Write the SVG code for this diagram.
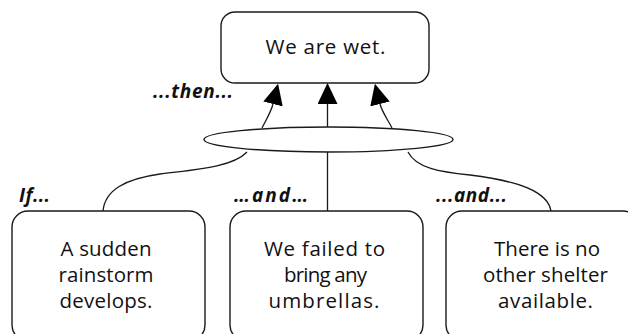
<svg xmlns="http://www.w3.org/2000/svg" width="628" height="334" viewBox="0 0 628 334">
  <style>
    .box { fill: #ffffff; stroke: #1a1a1a; stroke-width: 1.4; }
    .wire { fill: none; stroke: #1a1a1a; stroke-width: 1.3; }
    .txt { font-family: "Open Sans", "Noto Sans", "Liberation Sans", sans-serif; font-size: 20.5px; fill: #111111; text-anchor: middle; }
    .lbl { font-family: "Open Sans", "Noto Sans", "Liberation Sans", sans-serif; font-size: 19px; font-weight: bold; font-style: italic; fill: #111111; }
  </style>
  <defs>
    <marker id="head" viewBox="0 0 21 20" refX="0" refY="10" markerWidth="21" markerHeight="20" markerUnits="userSpaceOnUse" orient="auto">
      <path d="M0,0 L21,10 L0,20 Z" fill="#000000"/>
    </marker>
  </defs>

  <rect width="628" height="334" fill="#ffffff"/>

  <g id="connectors">
    <!-- causes joined at the ellipse -->
    <path class="wire" d="M247,152 C232,168 190,170 160,174 C125,179 105,190 103,211"/>
    <path class="wire" d="M327.5,152 L327.5,211"/>
    <path class="wire" d="M408,152 C416,168 440,172 470,175 C520,181 548,192 551,211"/>
    <!-- arrows up to the effect -->
    <path class="wire" d="M262,128 C266,120 271,112 273,104" marker-end="url(#head)"/>
    <path class="wire" d="M327.5,127 L327.5,104" marker-end="url(#head)"/>
    <path class="wire" d="M392,128 C388,120 382,112 380,104" marker-end="url(#head)"/>
  </g>

  <g id="and-junction">
    <ellipse class="box" cx="328.5" cy="139.5" rx="124.5" ry="12.5"/>
  </g>

  <g id="effect">
    <rect class="box" x="221" y="12" width="208" height="71" rx="14"/>
    <text class="txt" x="325.5" y="54" font-size="21.5" textLength="120" lengthAdjust="spacing">We are wet.</text>
  </g>

  <g id="cause-rain">
    <rect class="box" x="12" y="211" width="193" height="130" rx="16"/>
    <text class="txt" x="106" y="256" textLength="91" lengthAdjust="spacing">A sudden</text>
    <text class="txt" x="106" y="282" textLength="95" lengthAdjust="spacing">rainstorm</text>
    <text class="txt" x="106" y="308" textLength="93" lengthAdjust="spacing">develops.</text>
  </g>

  <g id="cause-umbrellas">
    <rect class="box" x="230" y="211" width="193" height="130" rx="16"/>
    <text class="txt" x="324.5" y="256" textLength="121" lengthAdjust="spacing">We failed to</text>
    <text class="txt" x="325.5" y="282" textLength="83" lengthAdjust="spacing">bring any</text>
    <text class="txt" x="324" y="308" textLength="111" lengthAdjust="spacing">umbrellas.</text>
  </g>

  <g id="cause-shelter">
    <rect class="box" x="446" y="211" width="193" height="130" rx="16"/>
    <text class="txt" x="547" y="256" textLength="106" lengthAdjust="spacing">There is no</text>
    <text class="txt" x="545.5" y="282" textLength="125" lengthAdjust="spacing">other shelter</text>
    <text class="txt" x="545.5" y="308" textLength="95" lengthAdjust="spacing">available.</text>
  </g>

  <g id="labels">
    <text class="lbl" x="153" y="98" textLength="80" lengthAdjust="spacing">...then...</text>
    <text class="lbl" x="19" y="202" textLength="31" lengthAdjust="spacing">If...</text>
    <text class="lbl" x="234" y="202" textLength="74" lengthAdjust="spacing">…and…</text>
    <text class="lbl" x="436" y="202" textLength="71" lengthAdjust="spacing">...and...</text>
  </g>
</svg>
